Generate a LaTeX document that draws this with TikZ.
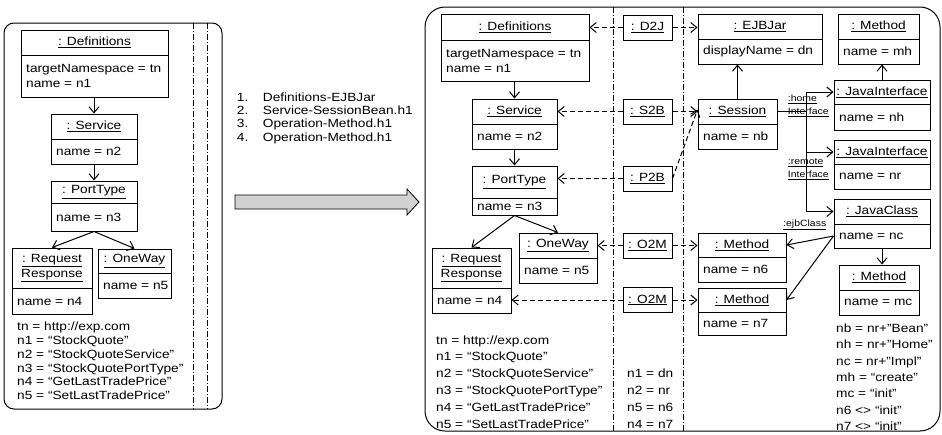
\documentclass[tikz,border=0pt]{standalone}
\usepackage{fontspec}
\setmainfont[FakeStretch=1.15]{Liberation Sans}
\usetikzlibrary{arrows.meta,calc}
\tikzset{
  objbox/.style={draw, line width=1pt, inner sep=0pt, fill=white},
  divl/.style={line width=1pt},
  hdr/.style={inner sep=0pt, font=\fontsize{11.9}{15.5}\selectfont, align=center},
  bodyt/.style={inner sep=0pt, font=\fontsize{11.9}{15}\selectfont, align=left, anchor=west},
  txt/.style={inner sep=0pt, font=\fontsize{11.9}{13.8}\selectfont, anchor=base west},
  lbl/.style={inner sep=0pt, font=\fontsize{9.1}{13}\selectfont, align=left, anchor=west},
  conn/.style={line width=1pt},
  carrow/.style={line width=1pt, -{Straight Barb[length=6pt,width=10pt]}},
  darrow/.style={line width=1pt, dash pattern=on 5pt off 3pt, -{Straight Barb[length=6pt,width=10pt]}},
  sepl/.style={line width=0.8pt, dash pattern=on 6pt off 2pt on 1pt off 2pt},
  framebox/.style={draw, line width=1pt, inner sep=0pt},
  trbox/.style={draw, line width=1pt, inner sep=0pt, fill=white, minimum width=49pt, minimum height=25pt, font=\fontsize{11.9}{15}\selectfont},
  bigarrow/.style={draw, line width=0.8pt, fill=black!18},
}
\newcommand\obox[8]{%
  \pgfmathsetmacro\objW{#4-#2}%
  \pgfmathsetmacro\objH{#5-#3}%
  \node[objbox, minimum width=\objW pt, minimum height=\objH pt] (#1) at ({(#2+#4)/2},{(#3+#5)/2}) {};
  \draw[divl] (#2,#6) -- (#4,#6);
  \node[hdr] (#1h) at ({(#2+#4)/2},{(#3+#6)/2}) {#7};
  \node[bodyt] (#1b) at ({#2+5},{(#6+#5)/2}) {#8};
}
\begin{document}
\begin{tikzpicture}[x=1pt,y=-1pt]
\useasboundingbox (0,0) rectangle (942,434);

% ---------- left frame ----------
\node[framebox, rounded corners=10pt, minimum width=218pt, minimum height=386pt] (LF) at (113,216) {};
\draw[sepl] (193,23) -- (193,409);
\draw[sepl] (207,23) -- (207,409);

\obox{lDef}{21}{30}{168}{97}{55}{\underline{: Definitions}}{targetNamespace = tn\\name = n1}
\obox{lSrv}{51}{114}{137}{164}{139}{\underline{: Service}}{name = n2}
\obox{lPT}{51}{181}{137}{231}{203}{\underline{: PortType}}{name = n3}
\obox{lRR}{12}{248}{92}{314}{288}{\underline{: Request}\\\underline{Response}}{name = n4}
\obox{lOW}{98}{249}{171}{298}{273}{\underline{: OneWay}}{name = n5}

\draw[carrow] (lSrv.north |- lDef.south) -- (lSrv.north);
\draw[carrow] (lSrv.south) -- (lPT.north);
\draw[carrow] (lPT.south) -- (lRR.north);
\draw[carrow] (lPT.south) -- (lOW.north);

\foreach \t [count=\i] in {tn = http://exp.com, n1 = “StockQuote”, n2 = “StockQuoteService”, n3 = “StockQuotePortType”, n4 = “GetLastTradePrice”, n5 = “SetLastTradePrice”}
  \node[txt] (lt\i) at (17,{330.7+13.8*(\i-1)}) {\t};

% ---------- middle ----------
\foreach \n/\t [count=\i] in {1./Definitions-EJBJar, 2./Service-SessionBean.h1, 3./Operation-Method.h1, 4./Operation-Method.h1}{
  \node[txt] (ln\i) at (236.7,{101+13.4*(\i-1)}) {\n};
  \node[txt] (lm\i) at (262.7,{101+13.4*(\i-1)}) {\t};
}
\draw[bigarrow] (235,195) -- (407,195) -- (407,189) -- (419,202) -- (407,215) -- (407,209) -- (235,209) -- cycle;

% ---------- right frame ----------
\node[framebox, rounded corners=20pt, minimum width=515pt, minimum height=424pt] (RF) at (682.5,219) {};
\draw[sepl] (613,7) -- (613,431);
\draw[sepl] (683,7) -- (683,431);

\obox{rDef}{441}{14}{589}{81}{40}{\underline{: Definitions}}{targetNamespace = tn\\name = n1}
\obox{rSrv}{472}{99}{557}{149}{124}{\underline{: Service}}{name = n2}
\obox{rPT}{472}{166}{557}{215}{198}{\underline{: PortType}}{name = n3}
\obox{rRR}{432}{248}{511}{313}{288}{\underline{: Request}\\\underline{Response}}{name = n4}
\obox{rOW}{519}{233}{597}{283}{258}{\underline{: OneWay}}{name = n5}

\node[trbox] (D2J) at (647.5,27.5) {\underline{: D2J}};
\node[trbox] (S2B) at (647.5,111.5) {\underline{: S2B}};
\node[trbox] (P2B) at (647.5,178.5) {\underline{: P2B}};
\node[trbox] (O2Ma) at (647.5,245.5) {\underline{: O2M}};
\node[trbox] (O2Mb) at (647.5,300) {\underline{: O2M}};

\obox{EJB}{698}{14}{822}{64}{39}{\underline{: EJBJar}}{displayName = dn}
\obox{Mh}{838}{14}{919}{64}{39}{\underline{: Method}}{name = mh}
\obox{Sess}{698}{99}{777}{149}{124}{\underline{: Session}}{name = nb}
\obox{JIh}{834}{80}{930}{130}{104}{\underline{: JavaInterface}}{name = nh}
\obox{JIr}{834}{140}{930}{189}{164}{\underline{: JavaInterface}}{name = nr}
\obox{JC}{834}{199}{930}{248}{224}{\underline{: JavaClass}}{name = nc}
\obox{Mn6}{698}{233}{786}{282}{257}{\underline{: Method}}{name = n6}
\obox{Mn7}{698}{288}{786}{335}{312}{\underline{: Method}}{name = n7}
\obox{Mc}{839}{265}{919}{315}{290}{\underline{: Method}}{name = mc}

\draw[carrow] (rSrv.north |- rDef.south) -- (rSrv.north);
\draw[carrow] (rSrv.south) -- (rPT.north);
\draw[carrow] (rPT.south) -- (rRR.north);
\draw[carrow] (rPT.south) -- (rOW.north);

\draw[darrow] (D2J.west) -- (D2J.west -| rDef.east);
\draw[darrow] (D2J.east) -- (D2J.east -| EJB.west);
\draw[darrow] (S2B.west) -- (S2B.west -| rSrv.east);
\draw[darrow] (S2B.east) -- (S2B.east -| Sess.west);
\draw[darrow] (P2B.west) -- (P2B.west -| rPT.east);
\draw[darrow] (P2B.east) -- ($(Sess.west |- S2B.east)+(0,-2)$);
\draw[darrow] (O2Ma.west) -- (O2Ma.west -| rOW.east);
\draw[darrow] (O2Ma.east) -- (O2Ma.east -| Mn6.west);
\draw[darrow] (O2Mb.west) -- (O2Mb.west -| rRR.east);
\draw[darrow] (O2Mb.east) -- (O2Mb.east -| Mn7.west);

\draw[carrow] (Sess.north) -- (Sess.north |- EJB.south);
\draw[carrow] (JIh.north) -- (JIh.north |- Mh.south);
\draw[carrow] (JC.south) -- (JC.south |- Mc.north);

\node[lbl] (homeL) at (787.7,105.7) {\underline{:home}\\\underline{Interface}};
\node[lbl] (remL) at (787.7,169.3) {\underline{:remote}\\\underline{Interface}};
\node[lbl] (ejbL) at (783,225) {\underline{:ejbClass}};

\coordinate (bus) at (806,0);
\draw[conn] (Sess.east |- Sessh) -- (bus |- Sessh);
\draw[conn] (bus |- JIhh) -- (bus |- JCh);
\draw[carrow] (bus |- JIhh) -- (JIh.west |- JIhh);
\draw[carrow] (bus |- JIrh) -- (JIr.west |- JIrh);
\draw[carrow] (bus |- JCh) -- (JC.west |- JCh);
\draw[carrow] (JC.west |- JCb) -- (Mn6.east |- Mn6h);
\draw[carrow] (JC.west |- JCb) -- (Mn7.east |- Mn7h);

\foreach \t [count=\i] in {tn = http://exp.com, n1 = “StockQuote”, n2 = “StockQuoteService”, n3 = “StockQuotePortType”, n4 = “GetLastTradePrice”, n5 = “SetLastTradePrice”}
  \node[txt] (rt\i) at (436,{344+16.8*(\i-1)}) {\t};
\foreach \t [count=\i] in {n1 = dn, n2 = nr, n5 = n6, n4 = n7}
  \node[txt] (mt\i) at (627,{344+16.8*(\i+1)}) {\t};
\foreach \t [count=\i] in {nb = nr+"Bean", nh = nr+"Home", nc = nr+"Impl", mh = “create”, mc = “init”, n6 <> “init”, n7 <> “init”}
  \node[txt] (ct\i) at (836,{332.5+16.3*(\i-1)}) {\t};
\end{tikzpicture}
\end{document}
